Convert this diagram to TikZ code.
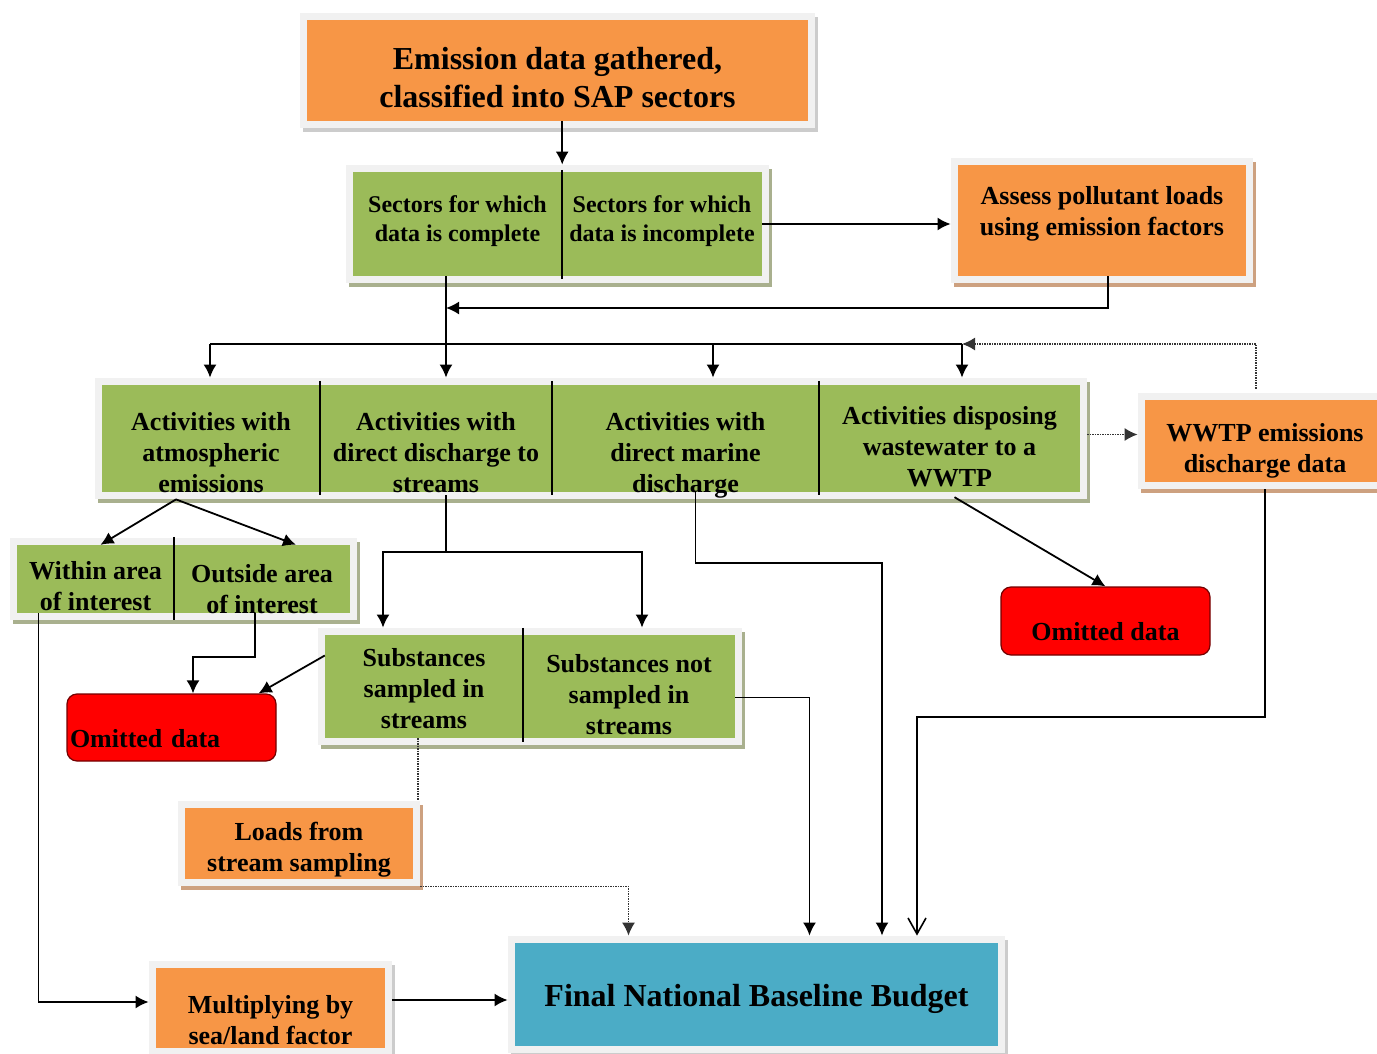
\documentclass[tikz,border=0pt]{standalone}
\usepackage{fontspec}
\setmainfont{Liberation Serif}
\usepackage{xcolor}
\usepackage{tikz}
\usetikzlibrary{arrows.meta, fit, backgrounds, shadows}
\usetikzlibrary{positioning}
\definecolor{boxorange}{HTML}{F79646}
\definecolor{boxgreen}{HTML}{9BBB59}
\definecolor{boxblue}{HTML}{4BACC6}
\definecolor{framegray}{HTML}{F1F1F1}
\definecolor{shadegreen}{HTML}{A9B08E}
\definecolor{shadeorange}{HTML}{CDA180}
\definecolor{shadegray}{HTML}{CCCCCC}
\tikzstyle{process} = [rectangle, inner sep=0pt, align=center, font=\fontsize{26}{31}\selectfont\bfseries]
\tikzstyle{omitted} = [process, rounded corners=10pt, fill=red, draw=red!45!black, line width=1.2pt]
\tikzstyle{boxframe} = [rectangle, fill=framegray, inner sep=7pt]
\tikzstyle{divider} = [line width=1.8pt]
\tikzstyle{connector} = [line width=1.8pt]
\tikzstyle{arrow} = [line width=1.8pt, ->, >={Latex[length=13pt,width=13pt]}]
\tikzstyle{openarrow} = [line width=1.6pt, ->, >={Straight Barb[length=16pt,width=18pt]}]
\tikzstyle{dotline} = [line width=1.5pt, densely dotted, black!80]
\tikzstyle{dotarrow} = [dotline, ->, >={Latex[length=13pt,width=13pt]}]

\begin{document}
\begin{tikzpicture}[x=1pt, y=-1pt]
    \useasboundingbox (0,0) rectangle (1377,1054);
    \node(emit)[process, fill=boxorange, minimum width=501pt, text height=88pt, text depth=13pt, font=\fontsize{32}{38}\selectfont\bfseries] at (557.5,70.5) {Emission data gathered,\\classified into SAP sectors};
    \node(sec1)[process, fill=boxgreen, minimum width=209pt, text height=69pt, text depth=35pt, font=\fontsize{24}{29}\selectfont\bfseries] at (457.5,224) {Sectors for which\\data is complete};
    \node(sec2)[process, fill=boxgreen, minimum width=200pt, text height=69pt, text depth=35pt, font=\fontsize{24}{29}\selectfont\bfseries] at (662,224) {Sectors for which\\data is incomplete};
    \node(assess)[process, fill=boxorange, minimum width=288pt, text height=70pt, text depth=41pt] at (1102,220.5) {Assess pollutant loads\\using emission factors};
    \node(act1)[process, fill=boxgreen, minimum width=218pt, text height=107pt, text depth=0pt] at (211,438.5) {Activities with\\atmospheric\\emissions};
    \node(act2)[process, fill=boxgreen, minimum width=232pt, text height=107pt, text depth=0pt] at (436,438.5) {Activities with\\direct discharge to\\streams};
    \node(act3)[process, fill=boxgreen, minimum width=267pt, text height=107pt, text depth=0pt] at (685.5,438.5) {Activities with\\direct marine\\discharge};
    \node(act4)[process, fill=boxgreen, minimum width=261pt, text height=101pt, text depth=6pt] at (949.5,438.5) {Activities disposing\\wastewater to a\\WWTP};
    \node(wwtp)[process, fill=boxorange, minimum width=240pt, text height=72pt, text depth=10pt] at (1265,441) {WWTP emissions\\discharge data};
    \node(area1)[process, fill=boxgreen, minimum width=157pt, text height=65pt, text depth=3pt] at (95.5,579) {Within area\\of interest};
    \node(area2)[process, fill=boxgreen, minimum width=176pt, text height=68pt, text depth=0pt] at (262,579) {Outside area\\of interest};
    \node(subs1)[process, fill=boxgreen, minimum width=198pt, text height=93pt, text depth=10pt] at (424,686.5) {Substances\\sampled in\\streams};
    \node(subs2)[process, fill=boxgreen, minimum width=212pt, text height=99pt, text depth=4pt] at (629,686.5) {Substances not\\sampled in\\streams};
    \node(omit1)[omitted, minimum width=209pt, text width=203pt, align=left, text height=53pt, text depth=14pt] at (171.5,727.5) {Omitted data};
    \node(omit2)[omitted, minimum width=209pt, text height=53pt, text depth=15pt] at (1105.5,621) {Omitted data};
    \node(loads)[process, fill=boxorange, minimum width=228pt, text height=63pt, text depth=8pt] at (299,843.5) {Loads from\\stream sampling};
    \node(mult)[process, fill=boxorange, minimum width=229pt, text height=76pt, text depth=4pt] at (270.5,1008) {Multiplying by\\sea/land factor};
    \node(final)[process, fill=boxblue, minimum width=483pt, text height=63pt, text depth=40pt, font=\fontsize{32}{38}\selectfont\bfseries] at (756.5,994.5) {Final National Baseline Budget};

    \begin{pgfonlayer}{background}
        \foreach \cellA/\cellB/\tint in {emit/emit/shadegray, sec1/sec2/shadegreen, assess/assess/shadeorange, act1/act4/shadegreen, wwtp/wwtp/shadeorange, area1/area2/shadegreen, subs1/subs2/shadegreen, loads/loads/shadeorange, mult/mult/shadegray, final/final/shadegray}
            \node(\cellA-frame)[boxframe, drop shadow={shadow xshift=3pt, shadow yshift=-4pt, fill=\tint, opacity=1}, fit=(\cellA)(\cellB)] {};
    \end{pgfonlayer}

    \draw[divider] ([yshift=2pt]sec1.north east) -- ([yshift=-3pt]sec1.south east);
    \foreach \c in {act1,act2,act3}
        \draw[divider] ([yshift=4pt]\c.north east) -- ([yshift=-3pt]\c.south east);
    \draw[divider] ([yshift=8pt]area1.north east) -- ([yshift=-7pt]area1.south east);
    \draw[divider] ([yshift=7pt]subs1.north east) -- ([yshift=-4pt]subs1.south east);

    \coordinate (merge) at (446,308);
    \coordinate (bus1) at (210,344);
    \coordinate (bus3) at (713,344);
    \coordinate (bus4) at (962,344);
    \coordinate (fork) at (446,552);
    \coordinate (bend3) at (882,563);
    \coordinate (bend5) at (917,717);
    \coordinate (bend6) at (193,657);

    \draw[arrow] (emit.south -| sec1.north east) -- (sec1-frame.north -| sec1.north east);
    \draw[arrow] (sec2.east) -- (sec2.east -| assess-frame.west);
    \draw[arrow] ([xshift=6pt]assess.south) |- (merge);
    \draw[arrow] (sec1.south -| merge) -- (act1-frame.north -| merge);
    \draw[connector] (bus1) -- (bus4);
    \foreach \p in {bus1,bus3,bus4}
        \draw[arrow] (\p) -- (\p |- act1-frame.north);
    \draw[dotarrow] ([xshift=-9pt, yshift=4pt]wwtp-frame.north) |- (bus4);
    \draw[dotarrow] ([yshift=4pt]act1-frame.east) -- ([yshift=4pt]act1-frame.east -| wwtp-frame.west);
    \draw[arrow] ([xshift=-35pt]act1.south |- act1-frame.south) -- ([xshift=5pt]area1.north);
    \draw[arrow] ([xshift=-35pt]act1.south |- act1-frame.south) -- ([xshift=34pt]area2.north);
    \draw[arrow] ([yshift=-3pt]act2.south -| fork) -- (fork) -| ([xshift=-41pt]subs1.north |- subs1-frame.north);
    \draw[arrow] (fork) -| ([xshift=13pt]subs2.north |- subs1-frame.north);
    \draw[arrow] ([xshift=10pt]act3.south) |- (bend3) -- (bend3 |- final-frame.north);
    \draw[arrow] ([yshift=-11pt]subs2.east) -| ([xshift=53pt]final-frame.north);
    \draw[openarrow] (wwtp-frame.south) |- (bend5) -- (bend5 |- final-frame.north);
    \draw[arrow] ([xshift=5pt, yshift=-5pt]act4.south) -- (omit2.north);
    \draw[arrow] ([xshift=-7pt]area2.south) |- (bend6) -- (bend6 |- omit1.north);
    \draw[arrow] ([yshift=31pt]subs1.west) -- ([xshift=-18pt]omit1.north east);
    \draw[arrow] ([xshift=-57pt]area1.south) |- ([yshift=6pt]mult-frame.west);
    \draw[arrow] ([yshift=8pt]mult-frame.east) -- ([yshift=8pt]mult-frame.east -| final-frame.west);
    \draw[dotline] ([xshift=-6pt]subs1.south) -- ([xshift=-6pt]subs1.south |- loads-frame.north);
    \draw[dotarrow] (loads-frame.south east) -| ([xshift=-128pt]final-frame.north);
\end{tikzpicture}
\end{document}
